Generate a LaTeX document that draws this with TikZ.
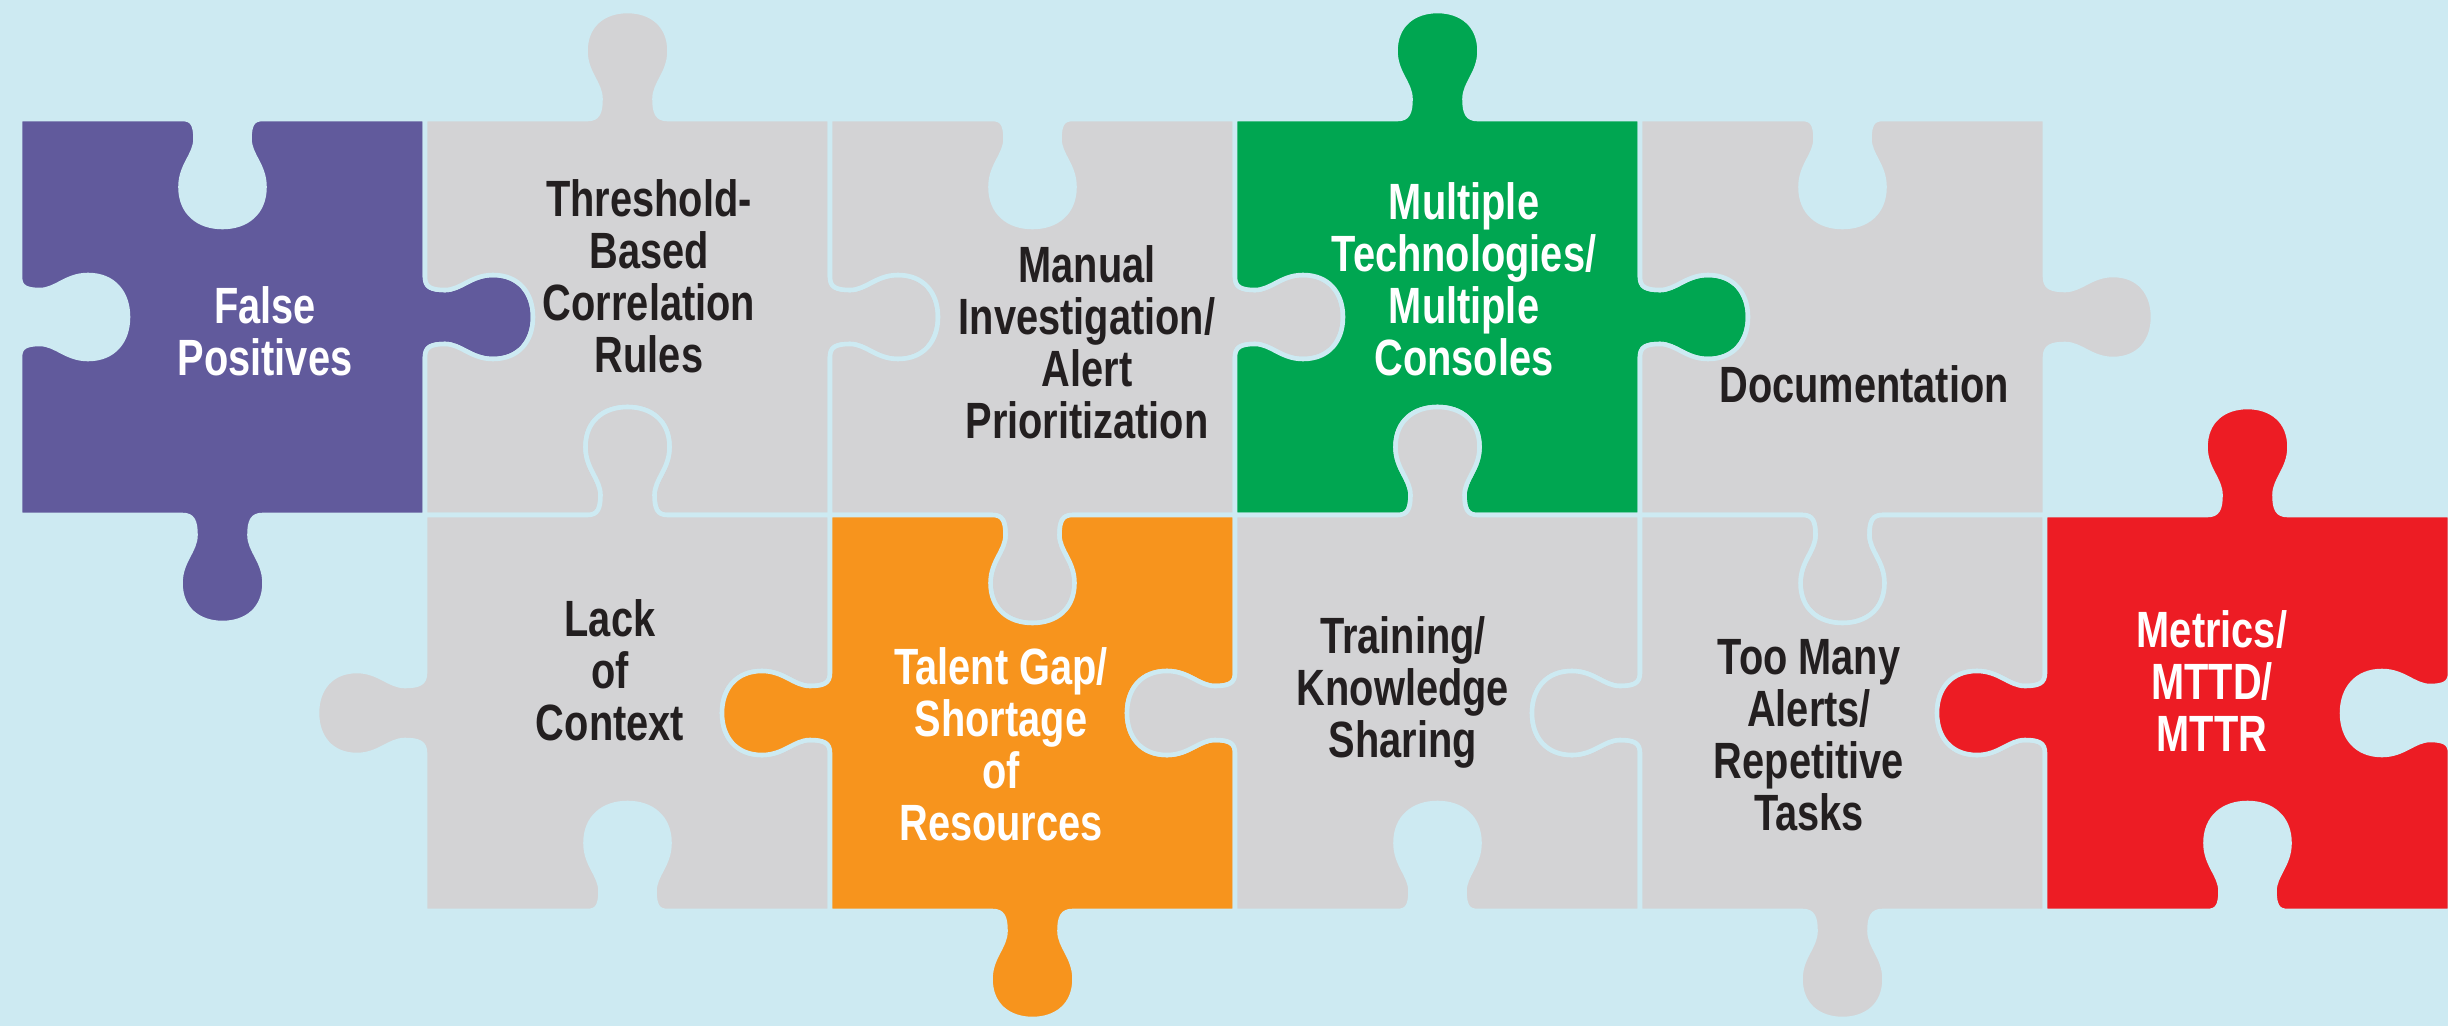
\documentclass[tikz,border=0pt]{standalone}
\usepackage{fontspec}
\newfontfamily\piecefont{Liberation Sans}[FakeStretch=0.78]

\definecolor{bgblue}{HTML}{CDEAF2}
\definecolor{piecegray}{HTML}{D3D3D5}
\definecolor{fpurple}{HTML}{615A9C}
\definecolor{mgreen}{HTML}{00A651}
\definecolor{torange}{HTML}{F7941D}
\definecolor{mred}{HTML}{ED1C24}
\definecolor{labeltext}{HTML}{231F20}

% one tab along the x axis, pointing up; yscale=-1 turns it into a blank
\tikzset{knob/.style={insert path={-- (-40,0) .. controls (-30,0) and (-27,6) .. (-27,20)
  .. controls (-27,36) and (-42,46) .. (-42,68) .. controls (-42,94) and (-24,108) .. (0,108)
  .. controls (24,108) and (42,94) .. (42,68) .. controls (42,46) and (27,36) .. (27,20)
  .. controls (27,6) and (30,0) .. (40,0)}}}

% #1,#2 lower left corner, #3 colour, #4..#7 top/right/bottom/left (1 tab, -1 blank)
\newcommand\puzzlepiece[7]{%
  \filldraw[piece,fill=#3] ({#1},{#2+396})
    {[shift={({#1+202.5},{#2+396})},yscale=#4,knob]} -- ({#1+405},{#2+396})
    {[shift={({#1+405},{#2+198})},rotate=-90,yscale=#5,knob]} -- ({#1+405},{#2})
    {[shift={({#1+202.5},{#2})},rotate=180,yscale=#6,knob]} -- ({#1},{#2})
    {[shift={({#1},{#2+198})},rotate=90,yscale=#7,knob]} -- cycle;}

\begin{document}
\begin{tikzpicture}[x=0.01cm,y=0.01cm]
	\tikzstyle{piece}=[draw=bgblue,line width=1.3pt,line join=round]
	\tikzstyle{darklbl}=[font=\piecefont\bfseries\fontsize{14.5pt}{14.8pt}\selectfont,text=labeltext,align=center]
	\tikzstyle{lightlbl}=[darklbl,text=white]
	\fill[bgblue] (0,0) rectangle (2448,1026);
	\useasboundingbox (0,0) rectangle (2448,1026);
	% top row
	\puzzlepiece{20}{511}{fpurple}{-1}{1}{1}{-1}
	\puzzlepiece{425}{511}{piecegray}{1}{1}{-1}{-1}
	\puzzlepiece{830}{511}{piecegray}{-1}{1}{1}{-1}
	\puzzlepiece{1235}{511}{mgreen}{1}{1}{-1}{-1}
	\puzzlepiece{1640}{511}{piecegray}{-1}{1}{1}{-1}
	% bottom row
	\puzzlepiece{425}{115}{piecegray}{1}{-1}{-1}{1}
	\puzzlepiece{830}{115}{torange}{-1}{-1}{1}{1}
	\puzzlepiece{1235}{115}{piecegray}{1}{-1}{-1}{1}
	\puzzlepiece{1640}{115}{piecegray}{-1}{-1}{1}{1}
	\puzzlepiece{2045}{115}{mred}{1}{-1}{-1}{1}
	% labels
	\node[lightlbl](fp) at (265,695) {False\\Positives};
	\node[darklbl](thr) at (649,750) {Threshold-\\Based\\Correlation\\Rules};
	\node[darklbl](man) at (1087,684) {Manual\\Investigation/\\Alert\\Prioritization};
	\node[lightlbl](mult) at (1464,747) {Multiple\\Technologies/\\Multiple\\Consoles};
	\node[darklbl](doc) at (1864,642) {Documentation};
	\node[darklbl](lack) at (610,356) {Lack\\of\\Context};
	\node[lightlbl](tal) at (1001,282) {Talent Gap/\\Shortage\\of\\Resources};
	\node[darklbl](train) at (1403,334) {Training/\\Knowledge\\Sharing};
	\node[darklbl](many) at (1809,291) {Too Many\\Alerts/\\Repetitive\\Tasks};
	\node[lightlbl](met) at (2212,345) {Metrics/\\MTTD/\\MTTR};
\end{tikzpicture}
\end{document}
